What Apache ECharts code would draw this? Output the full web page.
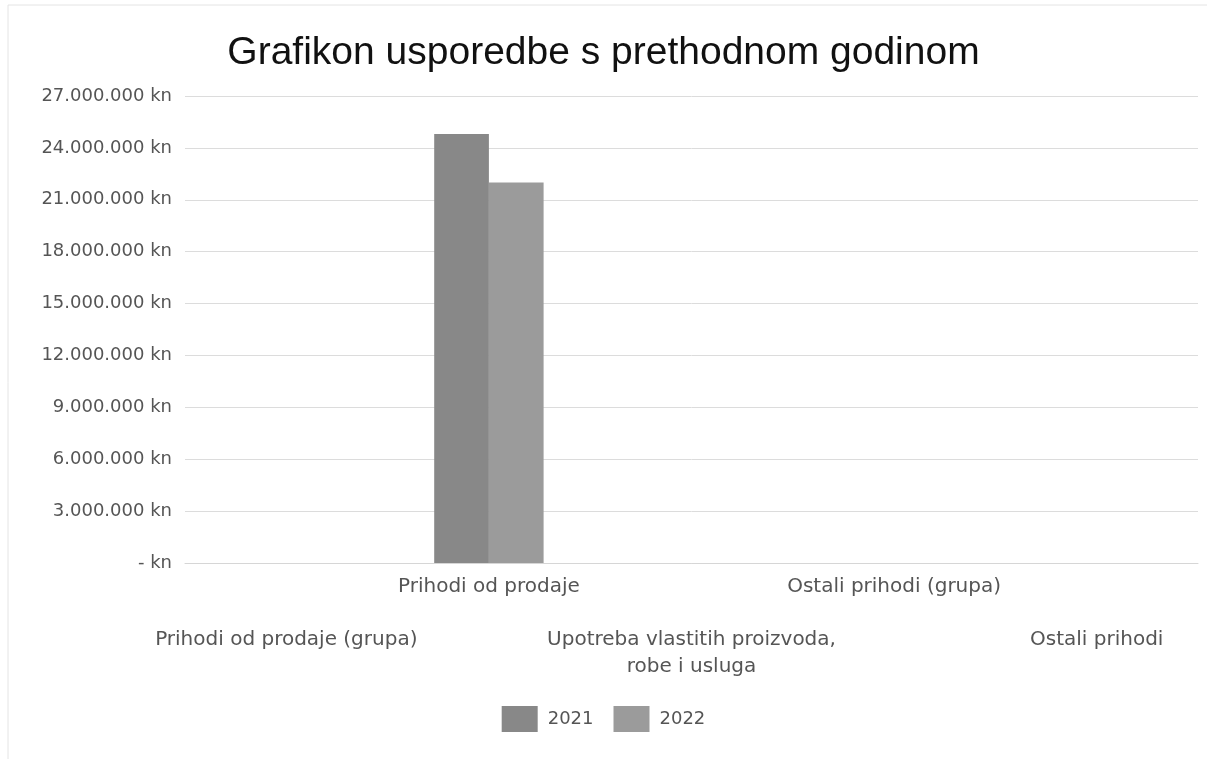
<!DOCTYPE html>
<html><head><meta charset="utf-8">
<script src="https://cdn.jsdelivr.net/npm/echarts@6/dist/echarts.min.js"></script>
<style>html,body{margin:0;padding:0;background:#fff}#c{width:1207px;height:759px}</style>
</head><body><div id="c"></div>
<script>
const categories = ["Prihodi od prodaje (grupa)", "Prihodi od prodaje", "Upotreba vlastitih proizvoda,\nrobe i usluga", "Ostali prihodi (grupa)", "Ostali prihodi"];
const values2021 = [0, 24800000, 0, 0, 0];
const values2022 = [0, 22000000, 0, 0, 0];
const seriesNames = ["2021", "2022"];
const title = "Grafikon usporedbe s prethodnom godinom";

function fmtKn(v){
  if (v === 0) return '- kn';
  return String(v).replace(/\B(?=(\d{3})+(?!\d))/g, '.') + ' kn';
}
const chart = echarts.init(document.getElementById('c'), null, {renderer:'canvas'});
chart.setOption({
  backgroundColor:'#fff',
  animation:false,
  graphic:[{type:'rect',shape:{x:8,y:5,width:1400,height:900},style:{fill:'none',stroke:'#e4e4e4',lineWidth:1},silent:true,z:-1}],
  title:{text:title,left:'center',top:29,textStyle:{fontFamily:'Liberation Sans',fontSize:39,fontWeight:'normal',color:'#111'}},
  grid:{left:185,right:9,top:96,bottom:196,containLabel:false},
  legend:{bottom:22,left:'center',icon:'rect',itemWidth:36,itemHeight:26,itemGap:20,
    textStyle:{fontFamily:'DejaVu Sans',fontSize:18,color:'#555',padding:[0,0,0,5]},data:seriesNames},
  xAxis:{type:'category',data:categories,
    axisLine:{show:true,lineStyle:{color:'#d6d6d6'}},axisTick:{show:false},
    axisLabel:{interval:0,margin:11,fontFamily:'DejaVu Sans',fontSize:20,color:'#555',lineHeight:26.5,
      formatter:(v,i)=> (i%2===0 ? '\n\n' : '') + v}},
  yAxis:{type:'value',min:0,max:27000000,interval:3000000,
    axisLine:{show:false},axisTick:{show:false},
    splitLine:{lineStyle:{color:'#dcdcdc'}},
    axisLabel:{margin:13,fontFamily:'DejaVu Sans',fontSize:18,color:'#555',formatter:fmtKn}},
  series:[
    {name:seriesNames[0],type:'bar',data:values2021,barGap:'0%',barCategoryGap:'46%',itemStyle:{color:'#888888'}},
    {name:seriesNames[1],type:'bar',data:values2022,itemStyle:{color:'#9b9b9b'}}
  ]
});
</script></body></html>
